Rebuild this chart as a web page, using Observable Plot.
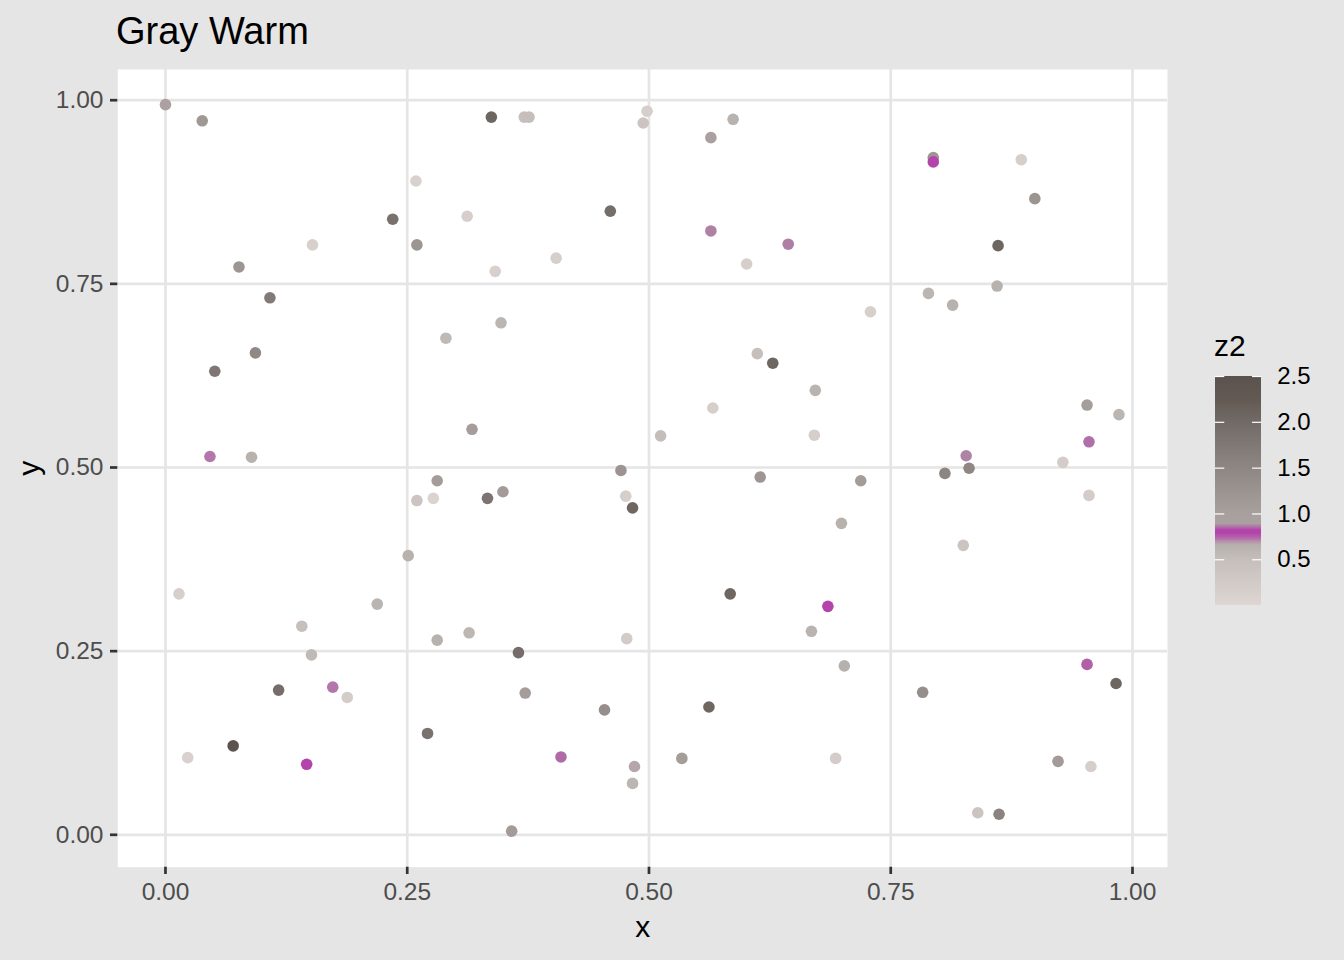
<!DOCTYPE html>
<html><head><meta charset="utf-8">
<script src="https://cdn.jsdelivr.net/npm/d3@7"></script>
<script src="https://cdn.jsdelivr.net/npm/@observablehq/plot@0.6"></script>
<style>
html,body{margin:0;padding:0;background:#e5e5e5;}
#wrap{position:relative;width:1344px;height:960px;overflow:hidden;background:#e5e5e5;font-family:"Liberation Sans",Arial,Helvetica,sans-serif;}
#title{position:absolute;left:116px;top:12px;font-size:38px;line-height:38px;color:#000;white-space:nowrap;}
#ltitle{position:absolute;left:1214px;top:331px;font-size:30px;line-height:30px;color:#000;white-space:nowrap;}
#main{position:absolute;left:0;top:0;}
#legend{position:absolute;left:1195px;top:330px;}
</style></head><body>
<div id="wrap">
<div id="main"></div>
<div id="legend"></div>
<div id="title">Gray Warm</div>
<div id="ltitle">z2</div>
</div>
<script>
// ---- data ----
const xs = [0.000,0.038,0.259,0.235,0.312,0.152,0.260,0.076,0.108,0.290,0.093,0.051,0.317,0.046,0.089,
  0.337,0.371,0.376,0.498,0.494,0.587,0.564,0.460,0.564,0.644,0.404,0.341,0.601,0.347,0.612,0.628,0.672,0.566,0.512,0.671,
  0.794,0.794,0.885,0.899,0.861,0.789,0.814,0.860,0.729,0.953,0.986,0.955,0.828,0.928,
  0.281,0.260,0.277,0.251,0.014,0.219,0.141,0.281,0.314,0.151,0.117,0.173,0.188,0.271,0.070,0.023,0.146,
  0.471,0.333,0.349,0.476,0.483,0.615,0.584,0.685,0.668,0.477,0.365,0.372,0.454,0.562,0.409,0.485,0.483,0.534,0.358,
  0.719,0.806,0.831,0.955,0.699,0.825,0.702,0.783,0.953,0.983,0.693,0.923,0.957,0.840,0.862];
const ys = [0.994,0.972,0.890,0.838,0.842,0.803,0.803,0.773,0.731,0.676,0.656,0.631,0.552,0.515,0.514,
  0.977,0.977,0.977,0.985,0.969,0.974,0.949,0.849,0.822,0.804,0.785,0.767,0.777,0.697,0.655,0.642,0.605,0.581,0.543,0.544,
  0.922,0.916,0.919,0.866,0.802,0.737,0.721,0.747,0.712,0.585,0.572,0.535,0.516,0.507,
  0.482,0.455,0.458,0.380,0.328,0.314,0.284,0.265,0.275,0.245,0.197,0.201,0.187,0.138,0.121,0.105,0.096,
  0.496,0.458,0.467,0.461,0.445,0.487,0.328,0.311,0.277,0.267,0.248,0.193,0.170,0.174,0.106,0.093,0.070,0.104,0.005,
  0.482,0.492,0.499,0.462,0.424,0.394,0.230,0.194,0.232,0.206,0.104,0.100,0.093,0.030,0.028];
const z2 = [0.90,1.16,0.11,1.87,0.17,0.13,1.22,1.22,1.71,0.55,1.46,1.77,1.06,0.72,0.64,
  2.07,0.48,0.50,0.17,0.37,0.63,0.95,1.94,0.867,0.865,0.15,0.13,0.17,0.59,0.48,2.07,0.61,0.17,0.51,0.17,
  1.20,0.80,0.17,1.24,2.07,0.59,0.64,0.64,0.15,1.04,0.59,0.853,0.869,0.20,
  1.08,0.37,0.07,0.64,0.15,0.60,0.48,0.64,0.58,0.55,1.94,0.72,0.20,1.85,2.48,0.11,0.80,
  1.24,1.83,1.10,0.17,2.07,1.20,2.07,0.80,0.61,0.22,1.94,1.06,1.34,2.07,0.85,0.67,0.59,1.06,1.10,
  1.08,1.52,1.48,0.20,0.64,0.37,0.645,1.34,0.842,2.07,0.20,1.10,0.17,0.37,1.56];

const xTicks = [0, 0.25, 0.5, 0.75, 1];
const yTicks = [0, 0.25, 0.5, 0.75, 1];
const legendTicks = [0.5, 1.0, 1.5, 2.0, 2.5];
const colorStops = [0, 0.5, 0.66, 0.75, 0.79, 0.82, 0.89, 1.0, 1.5, 2.0, 2.25, 2.5];
const colorRange = ["#ddd6d3","#c5bebb","#b5b0ac","#b45aab","#b443ab","#b443ab","#aba0a2","#a7a09d","#8e8683","#726a67","#625a52","#5b524e"];
const colorExtent = [0, 2.5];
const xDomain = [-0.0493, 1.0362];
const yDomain = [-0.0441, 1.0418];

// ---- build ----
const points = xs.map((x, i) => ({x, y: ys[i], z2: z2[i]}));
const colorScale = {type: "linear", domain: colorStops, range: colorRange};
const font = '"Liberation Sans", Arial, Helvetica, sans-serif';

const main = Plot.plot({
  width: 1190, height: 960,
  marginLeft: 117.3, marginRight: 23, marginTop: 69, marginBottom: 93.3,
  style: {background: "transparent", fontFamily: font, overflow: "visible"},
  x: {domain: xDomain},
  y: {domain: yDomain},
  color: colorScale,
  marks: [
    Plot.frame({fill: "white", stroke: "none"}),
    Plot.gridX(xTicks, {stroke: "#e5e5e5", strokeOpacity: 1, strokeWidth: 2.7}),
    Plot.gridY(yTicks, {stroke: "#e5e5e5", strokeOpacity: 1, strokeWidth: 2.7}),
    Plot.axisX(xTicks, {tickSize: 7.3, tickPadding: 8.5, stroke: "#333333", strokeWidth: 2.7,
      color: "#4d4d4d", fontSize: 24.5, tickFormat: d => d.toFixed(2), label: null}),
    Plot.axisY(yTicks, {tickSize: 7.3, tickPadding: 7, stroke: "#333333", strokeWidth: 2.7,
      color: "#4d4d4d", fontSize: 24.5, tickFormat: d => d.toFixed(2), label: null}),
    Plot.dot(points, {x: "x", y: "y", fill: "z2", r: 5.8}),
    Plot.text(["x"], {text: d => d, frameAnchor: "bottom", lineAnchor: "middle", textAnchor: "middle",
      dy: 60.2, fontSize: 30, fill: "black"}),
    Plot.text(["y"], {text: d => d, frameAnchor: "left", lineAnchor: "middle", textAnchor: "middle",
      dx: -88.6, rotate: -90, fontSize: 30, fill: "black"})
  ]
});
document.getElementById("main").appendChild(main);

const step = 0.005;
const legendVals = d3.range(colorExtent[0], colorExtent[1], step);
const legend = Plot.plot({
  width: 149, height: 300, margin: 0,
  style: {background: "transparent", fontFamily: font, overflow: "visible"},
  x: {domain: [0, 1], range: [20, 66.3], axis: null},
  y: {domain: colorExtent, range: [275.1, 46], axis: null},
  color: colorScale,
  marks: [
    Plot.rect(legendVals, {x1: 0, x2: 1, y1: d => d, y2: d => Math.min(d + step * 1.8, colorExtent[1]),
      fill: d => d + step / 2, shapeRendering: "crispEdges"}),
    Plot.ruleY(legendTicks, {y: d => d, x1: 0, x2: 0.2, stroke: "white", strokeWidth: 1.2}),
    Plot.ruleY(legendTicks, {y: d => d, x1: 0.8, x2: 1, stroke: "white", strokeWidth: 1.2}),
    Plot.text(legendTicks, {x: 1, y: d => d, text: d => d.toFixed(1), textAnchor: "start", dx: 15.4,
      fontSize: 24, fill: "black"})
  ]
});
document.getElementById("legend").appendChild(legend);
</script>
</body></html>
